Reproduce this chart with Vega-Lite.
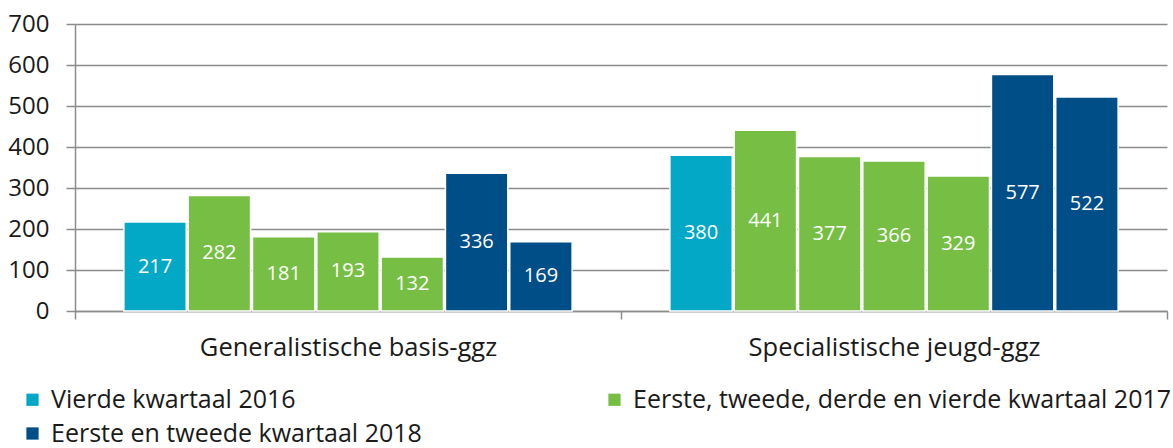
{
  "$schema": "https://vega.github.io/schema/vega-lite/v6.json",
  "width": 1092,
  "height": 287,
  "autosize": {"type": "none"},
  "padding": {"left": 75, "top": 24, "right": 6, "bottom": 137},
  "background": "white",
  "config": {
    "font": "Open Sans",
    "view": {"stroke": null},
    "axis": {"labelFont": "Open Sans", "labelColor": "#1a1a1a", "labelFontSize": 24, "labelFontWeight": 400}
  },
  "data": {
    "values": [
      {"categorie": "Generalistische basis-ggz", "balk": 1, "periode": "Vierde kwartaal 2016", "aantal": 217},
      {"categorie": "Generalistische basis-ggz", "balk": 2, "periode": "Eerste, tweede, derde en vierde kwartaal 2017", "aantal": 282},
      {"categorie": "Generalistische basis-ggz", "balk": 3, "periode": "Eerste, tweede, derde en vierde kwartaal 2017", "aantal": 181},
      {"categorie": "Generalistische basis-ggz", "balk": 4, "periode": "Eerste, tweede, derde en vierde kwartaal 2017", "aantal": 193},
      {"categorie": "Generalistische basis-ggz", "balk": 5, "periode": "Eerste, tweede, derde en vierde kwartaal 2017", "aantal": 132},
      {"categorie": "Generalistische basis-ggz", "balk": 6, "periode": "Eerste en tweede kwartaal 2018", "aantal": 336},
      {"categorie": "Generalistische basis-ggz", "balk": 7, "periode": "Eerste en tweede kwartaal 2018", "aantal": 169},
      {"categorie": "Specialistische jeugd-ggz", "balk": 1, "periode": "Vierde kwartaal 2016", "aantal": 380},
      {"categorie": "Specialistische jeugd-ggz", "balk": 2, "periode": "Eerste, tweede, derde en vierde kwartaal 2017", "aantal": 441},
      {"categorie": "Specialistische jeugd-ggz", "balk": 3, "periode": "Eerste, tweede, derde en vierde kwartaal 2017", "aantal": 377},
      {"categorie": "Specialistische jeugd-ggz", "balk": 4, "periode": "Eerste, tweede, derde en vierde kwartaal 2017", "aantal": 366},
      {"categorie": "Specialistische jeugd-ggz", "balk": 5, "periode": "Eerste, tweede, derde en vierde kwartaal 2017", "aantal": 329},
      {"categorie": "Specialistische jeugd-ggz", "balk": 6, "periode": "Eerste en tweede kwartaal 2018", "aantal": 577},
      {"categorie": "Specialistische jeugd-ggz", "balk": 7, "periode": "Eerste en tweede kwartaal 2018", "aantal": 522}
    ]
  },
  "encoding": {
    "x": {
      "field": "categorie",
      "type": "nominal",
      "title": null,
      "sort": null,
      "scale": {"paddingInner": 0, "paddingOuter": 0},
      "axis": {
        "labelAngle": 0,
        "labelLimit": 600,
        "tickBand": "extent",
        "domainColor": "#8c8c8c",
        "domainWidth": 1.5,
        "tickColor": "#8c8c8c",
        "tickWidth": 1.5,
        "tickSize": 8,
        "labelPadding": 16,
        "labelFontSize": 25.5
      }
    },
    "xOffset": {
      "field": "balk",
      "type": "ordinal",
      "scale": {"paddingInner": 0.03, "paddingOuter": 0.76}
    }
  },
  "layer": [
    {
      "mark": {"type": "bar", "stroke": "white", "strokeWidth": 1.5},
      "encoding": {
        "y": {
          "field": "aantal",
          "type": "quantitative",
          "title": null,
          "scale": {"domain": [0, 700]},
          "axis": {
            "values": [0, 100, 200, 300, 400, 500, 600, 700],
            "grid": true,
            "gridColor": "#8c8c8c",
            "gridWidth": 1.5,
            "domainColor": "#8c8c8c",
            "domainWidth": 1.5,
            "tickColor": "#8c8c8c",
            "tickWidth": 1.5,
            "tickSize": 9,
            "labelPadding": 17,
            "labelFontSize": 24
          }
        },
        "color": {
          "field": "periode",
          "type": "nominal",
          "title": null,
          "scale": {
            "domain": ["Vierde kwartaal 2016", "Eerste, tweede, derde en vierde kwartaal 2017", "Eerste en tweede kwartaal 2018"],
            "range": ["#02a8c6", "#77bf44", "#004e87"]
          },
          "legend": {
            "orient": "none",
            "legendX": -55,
            "legendY": 363,
            "direction": "horizontal",
            "columns": 2,
            "columnPadding": 180,
            "rowPadding": 8,
            "symbolType": "square",
            "symbolSize": 150,
            "symbolStrokeWidth": 0,
            "labelFontSize": 25,
            "labelFontWeight": 400,
            "labelColor": "#1a1a1a",
            "labelFont": "Open Sans",
            "labelOffset": 6,
            "labelLimit": 700
          }
        }
      }
    },
    {
      "mark": {"type": "text", "color": "white", "fontSize": 20, "fontWeight": 400, "baseline": "middle", "font": "Open Sans"},
      "encoding": {
        "y": {
          "field": "aantal",
          "type": "quantitative",
          "scale": {"domain": [0, 1400]},
          "axis": null
        },
        "text": {"field": "aantal", "type": "quantitative"}
      }
    }
  ],
  "resolve": {"scale": {"y": "independent"}}
}
